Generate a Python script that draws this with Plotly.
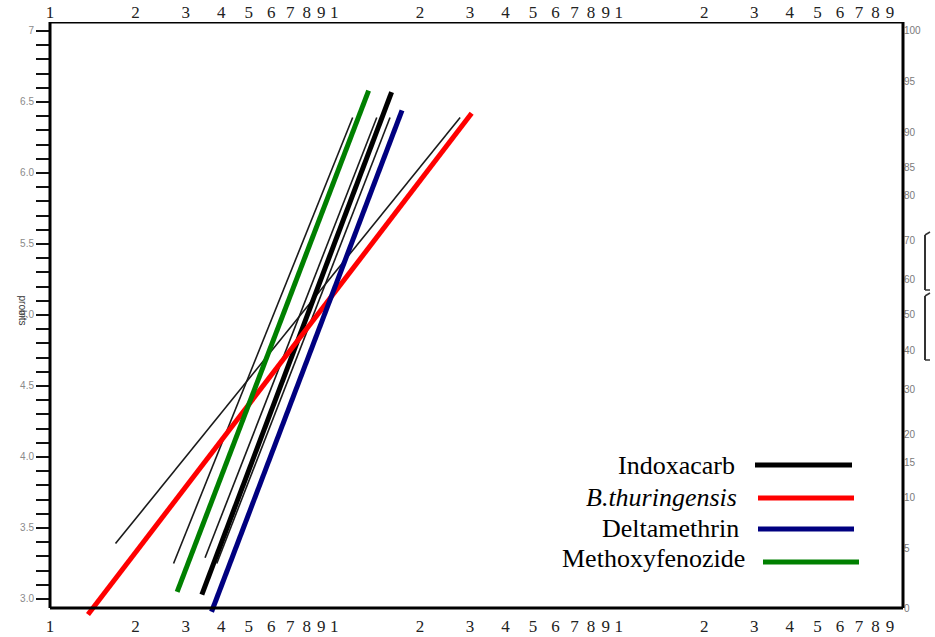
import plotly.graph_objects as go

# ---------------- data ----------------
series_names = ["Indoxacarb", "<i>B.thuringensis</i>", "Deltamethrin", "Methoxyfenozide"]
series_colors = ["#000000", "#ff0000", "#000080", "#008000"]

indox_conc = [3.42, 15.9]
indox_probit = [3.03, 6.57]
bt_conc = [1.36, 30.4]
bt_probit = [2.89, 6.42]
delta_conc = [3.70, 17.3]
delta_probit = [2.91, 6.44]
metho_conc = [2.80, 13.2]
metho_probit = [3.05, 6.58]

# thin lines of the original scanned graph
orig_conc = [[1.70, 27.7], [2.72, 11.6], [3.51, 14.1], [3.86, 15.7]]
orig_probit = [[3.39, 6.39], [3.25, 6.39], [3.29, 6.39], [3.25, 6.39]]

# axis ticks
x_tickvals = [m * 10 ** d for d in range(3) for m in range(1, 10)]
x_ticktext = [str(m) for d in range(3) for m in range(1, 10)]
probit_ticks = [round(3.0 + 0.1 * i, 1) for i in range(41)]
probit_labels = {3.0: "3.0", 3.5: "3.5", 4.0: "4.0", 4.5: "4.5", 5.0: "5.0",
                 5.5: "5.5", 6.0: "6.0", 6.5: "6.5", 7.0: "7"}
pct_labels = ["100", "95", "90", "85", "80", "70", "60", "50", "40", "30", "20", "15", "10", "5", "0"]
pct_probits = [7.0, 6.645, 6.282, 6.036, 5.842, 5.524, 5.253, 5.0, 4.747, 4.476, 4.158, 3.964, 3.718, 3.355, 2.93]

# ---------------- geometry ----------------
W, H = 935, 637
ML, MR, MT, MB = 50, 32, 22, 17
Y_RANGE = [2.852, 7.063]
FRAME_BOTTOM = 2.937


def px_x(px):
    return (px - ML) / (W - ML - MR)


def px_y(py):
    return (H - MB - py) / (H - MT - MB)


fig = go.Figure()

for c, p in zip(orig_conc, orig_probit):
    fig.add_trace(go.Scatter(x=c, y=p, mode="lines", line=dict(color="#1a1a1a", width=1.6),
                             showlegend=False, hoverinfo="skip"))

order = [(indox_conc, indox_probit, 0), (bt_conc, bt_probit, 1),
         (delta_conc, delta_probit, 2), (metho_conc, metho_probit, 3)]
for c, p, i in order:
    fig.add_trace(go.Scatter(x=c, y=p, mode="lines", name=series_names[i],
                             line=dict(color=series_colors[i], width=5), showlegend=False))

# invisible traces to activate secondary axes
fig.add_trace(go.Scatter(x=[1, 1000], y=[5, 5], xaxis="x2", yaxis="y2", mode="lines",
                         line=dict(width=0), opacity=0, showlegend=False, hoverinfo="skip"))

serif = "Liberation Serif, Times New Roman, serif"
fig.update_layout(
    width=W, height=H,
    margin=dict(l=ML, r=MR, t=MT, b=MB, autoexpand=False),
    paper_bgcolor="white", plot_bgcolor="white",
    showlegend=False,
    xaxis=dict(type="log", range=[0, 3], tickvals=x_tickvals, ticktext=x_ticktext,
               showgrid=False, zeroline=False, showline=False, ticks="outside", ticklen=3,
               tickcolor="rgba(0,0,0,0)", anchor="free", position=px_y(608), automargin=False,
               tickfont=dict(family=serif, size=17, color="#222")),
    xaxis2=dict(type="log", range=[0, 3], tickvals=x_tickvals, ticktext=x_ticktext,
                overlaying="x", side="top", anchor="y", showgrid=False, zeroline=False,
                showline=False, ticks="", automargin=False,
                tickfont=dict(family=serif, size=17, color="#222")),
    yaxis=dict(range=Y_RANGE, tickvals=probit_ticks,
               ticktext=[probit_labels.get(v, "") for v in probit_ticks],
               showgrid=False, zeroline=False, showline=False, ticks="outside",
               ticklen=13, tickwidth=2, tickcolor="#111", automargin=False,
               tickfont=dict(family="Liberation Sans, Arial", size=10, color="#8a8a8a")),
    yaxis2=dict(range=Y_RANGE, overlaying="y", side="right", anchor="x", tickvals=pct_probits,
                ticktext=pct_labels, showgrid=False, zeroline=False, showline=False, ticks="",
                automargin=False,
                tickfont=dict(family="Liberation Sans, Arial", size=10, color="#7a7a7a")),
)

# frame
frame = dict(type="line", line=dict(color="black", width=3), layer="above")
fig.add_shape(**frame, xref="paper", yref="y", x0=0, x1=0, y0=FRAME_BOTTOM, y1=Y_RANGE[1])
fig.add_shape(**frame, xref="paper", yref="y", x0=1, x1=1, y0=FRAME_BOTTOM, y1=Y_RANGE[1])
fig.add_shape(**frame, xref="paper", yref="y", x0=0, x1=1, y0=FRAME_BOTTOM, y1=FRAME_BOTTOM)
fig.add_shape(**frame, xref="paper", yref="y", x0=0, x1=1, y0=Y_RANGE[1], y1=Y_RANGE[1])

# bracket marks at the right edge of the scan
for top, bot in [(235, 290), (296, 360)]:
    fig.add_shape(type="line", xref="paper", yref="paper", x0=px_x(925), x1=px_x(925),
                  y0=px_y(top), y1=px_y(bot), line=dict(color="#333", width=2))
    fig.add_shape(type="line", xref="paper", yref="paper", x0=px_x(925), x1=px_x(930),
                  y0=px_y(top), y1=px_y(top - 3), line=dict(color="#333", width=1.5))
    fig.add_shape(type="line", xref="paper", yref="paper", x0=px_x(925), x1=px_x(930),
                  y0=px_y(bot), y1=px_y(bot), line=dict(color="#333", width=1.5))

# y-axis title
fig.add_annotation(text="probits", xref="paper", yref="paper", x=px_x(15), y=px_y(310),
                   showarrow=False, textangle=90,
                   font=dict(family="Liberation Sans, Arial", size=10, color="#333"))

# legend (text left of line sample)
leg_text_right = [737, 739, 741, 747]
leg_y = [465, 497, 528, 558]
leg_line = [(755, 852, 465), (758, 854, 498), (758, 854, 529), (763, 859, 562)]
for i in range(4):
    fig.add_annotation(text=series_names[i], xref="paper", yref="paper",
                       x=px_x(leg_text_right[i]), y=px_y(leg_y[i]), xanchor="right",
                       yanchor="middle", showarrow=False,
                       font=dict(family=serif, size=26, color="black"))
    x0, x1, yy = leg_line[i]
    fig.add_shape(type="line", xref="paper", yref="paper", x0=px_x(x0), x1=px_x(x1),
                  y0=px_y(yy), y1=px_y(yy), line=dict(color=series_colors[i], width=5))

fig.write_html("out.html")
